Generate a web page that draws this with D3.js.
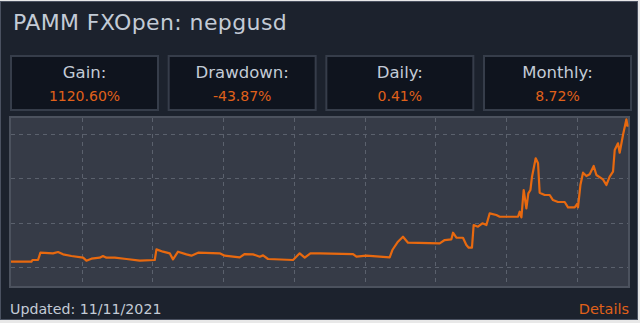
<!DOCTYPE html>
<html><head><meta charset="utf-8">
<script src="https://cdn.jsdelivr.net/npm/d3@7"></script>
<style>html,body{margin:0;padding:0;background:#e8e8e8;overflow:hidden}</style>
</head><body>
<svg id="c" width="640" height="323"></svg>
<script>
const title = "PAMM FXOpen: nepgusd";
const statLabels = ["Gain:", "Drawdown:", "Daily:", "Monthly:"];
const statValues = ["1120.60%", "-43.87%", "0.41%", "8.72%"];
const footerLeft = "Updated: 11/11/2021";
const footerRight = "Details";
const xGridTicks = [10, 20, 30, 40, 50, 60, 70, 80];
const yGridTicks = [0, 100, 200, 300];
const seriesX = [0,2.89,3.03,3.82,4.16,5.94,6.65,7.36,8.54,10.19,10.66,11.37,12.54,13.0,13.49,14.66,16.32,18.2,20.32,20.56,21.49,22.44,22.9,23.61,24.8,25.5,26.45,29.5,30.21,31.39,32.33,33.04,34.21,35.16,35.63,36.33,39.87,40.81,41.52,42.32,43.64,48.35,48.83,50.24,53.53,53.91,54.7,55.41,56.12,60.6,61.31,62.25,62.48,62.96,63.89,64.37,64.7,65.16,65.4,66.01,66.63,67.2,67.67,68.61,69.08,71.67,71.91,72.15,72.47,72.85,73.13,73.42,73.65,74.17,74.5,74.73,75.44,76.15,76.61,77.32,78.27,78.74,79.68,80.01,80.15,80.49,80.86,81.34,81.8,82.37,82.75,83.68,84.16,84.63,85.1,85.34,85.8,86.04,86.51,86.99,87.17];
const seriesY = [12,12,15.8,15.8,32.3,30.9,33.9,28.6,24.8,21.1,14.3,18.8,21.1,24.8,21.1,21.1,18.1,14.3,15.8,39.9,34.6,30.9,17.3,34.6,28.6,25.6,32.3,30.9,25.6,23.3,21.8,29.3,28.6,23.3,26.3,18.1,15.8,30.9,21.1,30.9,30.9,29.3,23.3,25.6,21.8,38.4,57.1,68.4,54.9,53.5,60.9,62.5,77.4,66.1,66.1,49.7,43.6,43.6,94.8,91.0,98.6,94.8,121.2,117.4,113.5,113.5,124.8,112,173.8,132.5,166.4,173.8,203.9,245.4,234.1,167.8,162.5,162.5,151.2,146.7,146.7,134.7,134.7,142.2,134.7,185.1,212.9,205.4,209.3,228,207.7,197.9,185.1,203.9,215.1,264.1,279.2,258,298,333.4,316.7];

const svg = d3.select("#c");
const FONT = "'DejaVu Sans', Verdana, sans-serif";
const TXT = "#c3cbd6", ORANGE = "#e0611a";

// card
svg.append("rect").attr("x",0.5).attr("y",1.5).attr("width",637).attr("height",318)
  .attr("fill","#1c222d").attr("stroke","#4a5160").attr("stroke-width",1);

svg.append("text").attr("x",13).attr("y",30).attr("fill",TXT)
  .attr("font-family",FONT).attr("font-size",22).attr("letter-spacing",0.4).text(title);

// stat boxes
const bx = d3.scaleBand().domain(d3.range(4)).range([10, 632]).paddingInner(0.055).paddingOuter(0);
statLabels.forEach((lab,i)=>{
  const x = bx(i), w = bx.bandwidth();
  svg.append("rect").attr("x",x+1).attr("y",56).attr("width",w-2).attr("height",54)
    .attr("fill","#0f141e").attr("stroke","#363d4a").attr("stroke-width",2);
  svg.append("text").attr("x",x+w/2).attr("y",78).attr("text-anchor","middle")
    .attr("fill",TXT).attr("font-family",FONT).attr("font-size",16.5).text(lab);
  svg.append("text").attr("x",x+w/2).attr("y",101).attr("text-anchor","middle")
    .attr("fill",ORANGE).attr("font-family",FONT).attr("font-size",14).text(statValues[i]);
});

// chart
const L=10, R=629, T=117, B=287;
const x = d3.scaleLinear().domain([0, 87.5]).range([11, 630]);
const y = d3.scaleLinear().domain([-45.1, 338.6]).range([B, T]);
svg.append("rect").attr("x",L).attr("y",T).attr("width",R-L).attr("height",B-T)
  .attr("fill","#363b47").attr("stroke","#4c525e").attr("stroke-width",2);

const g = svg.append("g");
g.selectAll("line.v").data(xGridTicks).join("line").attr("class","v")
  .attr("x1",d=>Math.round(x(d))+0.5).attr("x2",d=>Math.round(x(d))+0.5).attr("y1",T+1).attr("y2",B-1)
  .attr("stroke","#5b616d").attr("stroke-dasharray","4,4");
g.selectAll("line.h").data(yGridTicks).join("line").attr("class","h")
  .attr("y1",d=>Math.round(y(d))+0.5).attr("y2",d=>Math.round(y(d))+0.5).attr("x1",L+1).attr("x2",R-1)
  .attr("stroke","#5b616d").attr("stroke-dasharray","4,4");

const pts = seriesX.map((v,i)=>[v, seriesY[i]]);
svg.append("path").datum(pts)
  .attr("d", d3.line().x(d=>x(d[0])).y(d=>y(d[1])))
  .attr("fill","none").attr("stroke","#e8690f").attr("stroke-width",2.2).attr("stroke-linejoin","round");

svg.append("text").attr("x",10).attr("y",314).attr("fill",TXT)
  .attr("font-family",FONT).attr("font-size",14.2).text(footerLeft);
svg.append("text").attr("x",629).attr("y",314).attr("text-anchor","end").attr("fill",ORANGE)
  .attr("font-family",FONT).attr("font-size",14.5).text(footerRight);
</script>
</body></html>
